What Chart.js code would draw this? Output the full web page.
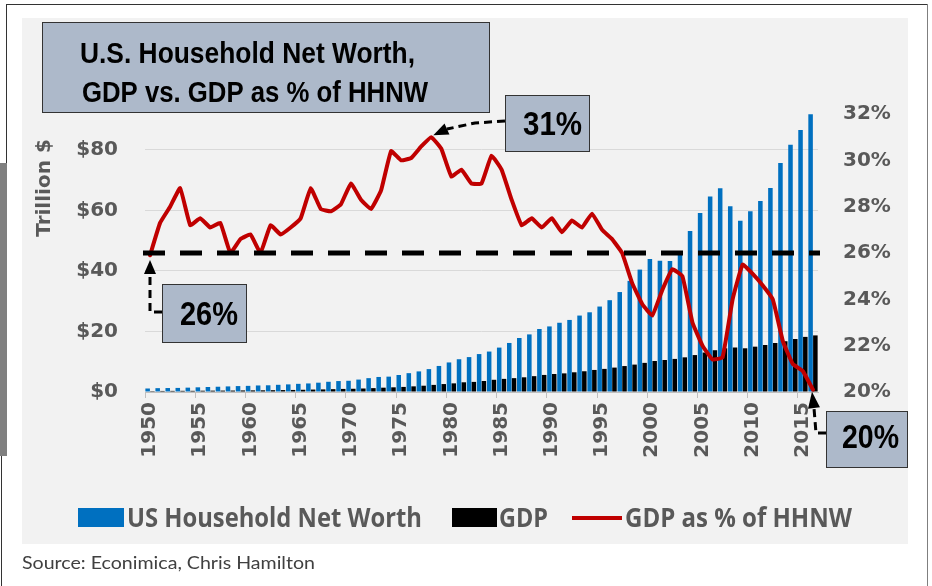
<!DOCTYPE html>
<html>
<head>
<meta charset="utf-8">
<script src="https://cdn.jsdelivr.net/npm/chart.js@4.4.1/dist/chart.umd.min.js"></script>
<style>
  html, body { margin: 0; padding: 0; background: #fff; }
  canvas { display: block; }
</style>
</head>
<body>
<canvas id="hhnw" width="932" height="586"></canvas>
<script>
// years on the category axis
const years = Array.from({ length: 67 }, (_, i) => 1950 + i);

// US household net worth, trillion $
const netWorth = [
  1.16, 1.27, 1.31, 1.35, 1.44, 1.55, 1.66, 1.74, 1.85, 1.96,
  2.03, 2.16, 2.22, 2.38, 2.52, 2.70, 2.83, 3.08, 3.38, 3.62,
  3.71, 4.11, 4.58, 4.97, 5.08, 5.62, 6.23, 6.81, 7.57, 8.61,
  9.77, 10.83, 11.54, 12.54, 13.37, 14.68, 16.21, 17.86, 19.04, 20.82,
  21.68, 22.89, 23.82, 25.27, 26.35, 28.25, 30.35, 33.04, 36.74, 40.47,
  43.94, 43.39, 43.31, 45.91, 53.22, 59.20, 64.61, 67.37, 61.40, 56.60,
  59.73, 63.18, 67.40, 75.74, 81.7, 86.6, 91.8
];

// GDP, trillion $
const gdp = [
  0.30, 0.35, 0.37, 0.39, 0.39, 0.43, 0.45, 0.47, 0.48, 0.52,
  0.54, 0.56, 0.60, 0.64, 0.68, 0.74, 0.81, 0.86, 0.94, 1.02,
  1.07, 1.16, 1.28, 1.43, 1.55, 1.68, 1.87, 2.08, 2.35, 2.63,
  2.86, 3.21, 3.34, 3.63, 4.04, 4.34, 4.58, 4.86, 5.24, 5.64,
  5.96, 6.16, 6.52, 6.86, 7.29, 7.64, 8.07, 8.58, 9.06, 9.63,
  10.25, 10.58, 10.94, 11.46, 12.21, 13.04, 13.81, 14.45, 14.71, 14.45,
  14.99, 15.54, 16.20, 16.78, 17.52, 18.22, 18.71
];

// GDP as % of household net worth
const gdpShare = [
  25.9, 27.3, 28.0, 28.8, 27.2, 27.5, 27.1, 27.3, 26.0, 26.6,
  26.8, 26.0, 27.2, 26.8, 27.1, 27.5, 28.8, 27.9, 27.8, 28.1,
  29.0, 28.3, 27.9, 28.7, 30.4, 30.0, 30.1, 30.6, 31.0, 30.5,
  29.3, 29.6, 29.0, 29.0, 30.2, 29.6, 28.3, 27.2, 27.5, 27.1,
  27.5, 26.9, 27.4, 27.1, 27.7, 27.0, 26.6, 26.0, 24.7, 23.8,
  23.3, 24.4, 25.3, 25.0, 23.0, 22.0, 21.4, 21.5, 24.0, 25.5,
  25.1, 24.6, 24.0, 22.2, 21.2, 20.9, 20.1
];

const dollarTicks = [0, 20, 40, 60, 80];
const dollarMax = 91.9;
const percentTicks = [20, 22, 24, 26, 28, 30, 32];
const referenceShare = 26;

const titleLines = ['U.S. Household Net Worth,', 'GDP vs. GDP as % of HHNW'];
const axisTitle = 'Trillion $';
const sourceText = 'Source: Econimica, Chris Hamilton';

const GREY = '#595959';
const BOX = '#adb9ca';
const NARROW = '"Liberation Sans Narrow", "Arial Narrow", "Liberation Sans", Arial, sans-serif';
const TICKFONT = { family: '"DejaVu Sans", Verdana, sans-serif', size: 20, weight: 'bold' };

// draw text squeezed/stretched to a given width
function fitText(ctx, text, left, baseline, width) {
  const w = ctx.measureText(text).width;
  ctx.save();
  ctx.translate(left, baseline);
  ctx.scale(width / w, 1);
  ctx.textAlign = 'left';
  ctx.textBaseline = 'alphabetic';
  ctx.fillText(text, 0, 0);
  ctx.restore();
}

function calloutBox(ctx, x, y, w, h) {
  ctx.fillStyle = BOX;
  ctx.fillRect(x, y, w, h);
  ctx.strokeStyle = '#333';
  ctx.lineWidth = 1;
  ctx.strokeRect(x + 0.5, y + 0.5, w - 1, h - 1);
}

function dashedArrow(ctx, pts, tip) {
  ctx.save();
  ctx.strokeStyle = '#000';
  ctx.lineWidth = 3;
  ctx.setLineDash([8, 5]);
  ctx.beginPath();
  ctx.moveTo(pts[0][0], pts[0][1]);
  for (let i = 1; i < pts.length; i++) ctx.lineTo(pts[i][0], pts[i][1]);
  ctx.stroke();
  const [bx, by] = pts[pts.length - 1];
  const ang = Math.atan2(tip[1] - by, tip[0] - bx);
  const len = Math.hypot(tip[0] - bx, tip[1] - by), half = 6;
  const cx = tip[0] - len * Math.cos(ang), cy = tip[1] - len * Math.sin(ang);
  ctx.setLineDash([]);
  ctx.fillStyle = '#000';
  ctx.beginPath();
  ctx.moveTo(tip[0], tip[1]);
  ctx.lineTo(cx + half * Math.sin(ang), cy - half * Math.cos(ang));
  ctx.lineTo(cx - half * Math.sin(ang), cy + half * Math.cos(ang));
  ctx.closePath();
  ctx.fill();
  ctx.restore();
}

const decorations = {
  id: 'decorations',
  beforeDraw(chart) {
    const ctx = chart.ctx;
    ctx.save();
    ctx.fillStyle = '#fff';
    ctx.fillRect(0, 0, chart.width, chart.height);
    ctx.fillStyle = '#f2f2f2';
    ctx.fillRect(22, 18, 886, 526);
    ctx.fillStyle = '#808080';
    ctx.fillRect(0, 163, 7, 293);
    ctx.strokeStyle = '#333';
    ctx.lineWidth = 1;
    ctx.beginPath();
    ctx.moveTo(6, 4.5); ctx.lineTo(928, 4.5);
    ctx.moveTo(6.5, 4); ctx.lineTo(6.5, 163);
    ctx.moveTo(1.5, 456); ctx.lineTo(1.5, 586);
    ctx.stroke();
    ctx.strokeStyle = '#7f7f7f';
    ctx.beginPath();
    ctx.moveTo(927.5, 4); ctx.lineTo(927.5, 586);
    ctx.stroke();
    ctx.restore();
  },
  afterDatasetsDraw(chart) {
    const ctx = chart.ctx, a = chart.chartArea;
    const y = chart.scales.y1.getPixelForValue(referenceShare);
    ctx.save();
    ctx.strokeStyle = '#000';
    ctx.lineWidth = 5;
    ctx.setLineDash([22, 15]);
    ctx.beginPath();
    ctx.moveTo(a.left - 2, y);
    ctx.lineTo(a.right + 2, y);
    ctx.stroke();
    ctx.restore();
  },
  afterDraw(chart) {
    const ctx = chart.ctx;
    const xs = chart.scales.x, ys = chart.scales.y1;
    ctx.save();

    // title box
    calloutBox(ctx, 42, 22, 448, 91);
    ctx.fillStyle = '#000';
    ctx.font = 'bold 29px ' + NARROW;
    fitText(ctx, titleLines[0], 80, 63, 335);
    fitText(ctx, titleLines[1], 82, 102, 346);

    // axis title
    ctx.save();
    ctx.translate(50, 188);
    ctx.rotate(-Math.PI / 2);
    ctx.fillStyle = GREY;
    ctx.font = 'bold 20px "DejaVu Sans", Verdana, sans-serif';
    ctx.textAlign = 'center';
    ctx.textBaseline = 'alphabetic';
    ctx.fillText(axisTitle, 0, 0);
    ctx.restore();

    // callouts
    const last = gdpShare.length - 1;
    const peak = gdpShare.indexOf(Math.max(...gdpShare));
    ctx.font = 'bold 33px ' + NARROW;

    dashedArrow(ctx, [[505, 121], [475, 123], [447, 129]],
      [xs.getPixelForValue(peak) + 2, ys.getPixelForValue(gdpShare[peak]) - 2]);
    calloutBox(ctx, 505, 95, 85, 57);
    ctx.fillStyle = '#000';
    fitText(ctx, Math.round(gdpShare[peak]) + '%', 523, 135, 59);

    dashedArrow(ctx, [[162, 312], [150, 312], [150, 274]],
      [xs.getPixelForValue(0), ys.getPixelForValue(referenceShare) + 7]);
    calloutBox(ctx, 162, 284, 85, 59);
    ctx.fillStyle = '#000';
    fitText(ctx, Math.round(gdpShare[0]) + '%', 180, 325, 58);

    dashedArrow(ctx, [[826, 433], [816, 433], [814, 408]],
      [xs.getPixelForValue(last) - 1, ys.getPixelForValue(gdpShare[last]) + 2]);
    calloutBox(ctx, 826, 411, 82, 57);
    ctx.fillStyle = '#000';
    fitText(ctx, Math.round(gdpShare[last]) + '%', 842, 448, 57);

    // legend
    const ds = chart.data.datasets;
    ctx.font = 'bold 26px "Open Sans", Lato, sans-serif';
    ctx.fillStyle = ds[1].backgroundColor;
    ctx.fillRect(78, 508, 46, 19);
    ctx.fillStyle = GREY;
    fitText(ctx, ds[1].label, 127, 527, 295);
    ctx.fillStyle = ds[2].backgroundColor;
    ctx.fillRect(452, 508, 45, 19);
    ctx.fillStyle = GREY;
    fitText(ctx, ds[2].label, 499, 527, 49);
    ctx.strokeStyle = ds[0].borderColor;
    ctx.lineWidth = 4;
    ctx.beginPath();
    ctx.moveTo(572, 518); ctx.lineTo(622, 518);
    ctx.stroke();
    ctx.fillStyle = GREY;
    fitText(ctx, ds[0].label, 625, 527, 227);

    // source
    ctx.font = '18px Lato, "Open Sans", sans-serif';
    ctx.fillStyle = '#404040';
    fitText(ctx, sourceText, 22, 569, 293);

    ctx.restore();
  }
};

new Chart(document.getElementById('hhnw'), {
  type: 'bar',
  data: {
    labels: years,
    datasets: [
      {
        type: 'line',
        label: 'GDP as % of HHNW',
        data: gdpShare,
        yAxisID: 'y1',
        borderColor: '#c00000',
        borderWidth: 4,
        pointRadius: 0,
        tension: 0.1,
        borderJoinStyle: 'round',
        borderCapStyle: 'round'
      },
      {
        label: 'US Household Net Worth',
        data: netWorth,
        yAxisID: 'y',
        backgroundColor: '#0070c0',
        categoryPercentage: 0.95,
        barPercentage: 0.95
      },
      {
        label: 'GDP',
        data: gdp,
        yAxisID: 'y',
        backgroundColor: '#000000',
        categoryPercentage: 0.95,
        barPercentage: 0.95
      }
    ]
  },
  options: {
    responsive: false,
    animation: false,
    devicePixelRatio: 1,
    events: [],
    layout: { padding: { left: 0, right: 24, top: 114, bottom: 124 } },
    plugins: {
      legend: { display: false },
      tooltip: { enabled: false }
    },
    scales: {
      x: {
        offset: true,
        afterFit: s => { s.height = 70; },
        grid: {
          offset: true,
          drawOnChartArea: false,
          tickLength: 6,
          color: c => (c.index % 5 === 0 ? '#bfbfbf' : 'rgba(0,0,0,0)')
        },
        border: { display: true, color: '#bfbfbf' },
        ticks: {
          autoSkip: false,
          minRotation: 90,
          maxRotation: 90,
          padding: 4,
          color: GREY,
          font: TICKFONT,
          callback: (v, i) => (years[i] % 5 === 0 ? String(years[i]) : '')
        }
      },
      y: {
        position: 'left',
        min: 0,
        max: dollarMax,
        afterFit: s => { s.width = 145; },
        afterBuildTicks: s => { s.ticks = dollarTicks.map(v => ({ value: v })); },
        grid: { color: '#d9d9d9', drawTicks: false },
        border: { display: false },
        ticks: {
          padding: 27,
          color: GREY,
          font: TICKFONT,
          callback: v => '$' + v
        }
      },
      y1: {
        position: 'right',
        min: 20,
        max: 32,
        afterFit: s => { s.width = 90; },
        afterBuildTicks: s => { s.ticks = percentTicks.map(v => ({ value: v })); },
        grid: { drawOnChartArea: false, drawTicks: false },
        border: { display: false },
        ticks: {
          padding: 25,
          color: GREY,
          font: TICKFONT,
          callback: v => v + '%'
        }
      }
    }
  },
  plugins: [decorations]
});
</script>
</body>
</html>
